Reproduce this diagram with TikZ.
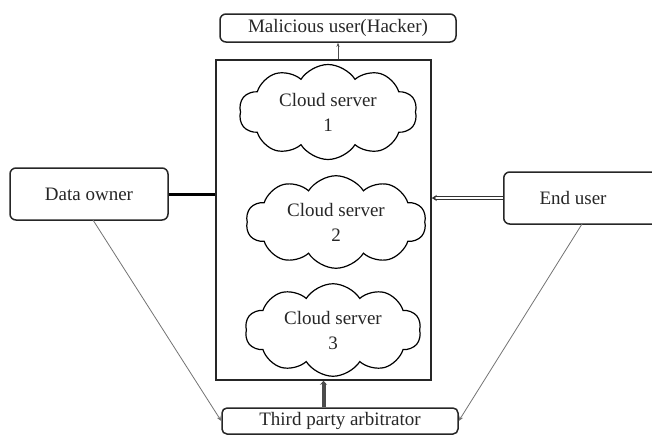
\documentclass[tikz,border=0pt]{standalone}
\usepackage{fontspec}
\setmainfont{Liberation Serif}
\usetikzlibrary{shapes.symbols,arrows.meta}
\begin{document}
\begin{tikzpicture}[x=1pt,y=-1pt,
  every node/.style={font=\fontsize{19}{22}\selectfont,text=black!85},
  rbox/.style={draw=black!85,line width=1.5pt,rounded corners=6pt,inner sep=0pt},
  cloudnode/.style={cloud,draw,line width=1.2pt,cloud puffs=10,cloud puff arc=115,aspect=1.9,inner sep=0pt,align=center,font=\fontsize{19}{25}\selectfont},
  thin gray/.style={draw=black!55,line width=0.8pt}]
\useasboundingbox (0,0) rectangle (652,434);
\node[rbox,minimum width=236pt,minimum height=28pt] (mal) at (338,28) {Malicious user(Hacker)};
\node[draw=black!85,line width=1.5pt,minimum width=215pt,minimum height=320pt,inner sep=0pt] (rect) at (323.5,220) {};
\node[rbox,minimum width=158pt,minimum height=52pt] (owner) at (89,194) {Data owner};
\node[rbox,minimum width=160pt,minimum height=52pt,anchor=west] (end) at (503,198) {};
\node (endtxt) at (573,198) {End user};
\node[rbox,minimum width=236pt,minimum height=26pt,rounded corners=5pt] (tpa) at (340,421) {Third party arbitrator};
\node[cloudnode,minimum width=178pt,minimum height=95pt] (c1) at (328,112) {Cloud server\\1};
\node[cloudnode,minimum width=180pt,minimum height=92pt] (c2) at (336,222) {Cloud server\\2};
\node[cloudnode,minimum width=176pt,minimum height=92pt] (c3) at (333,330) {Cloud server\\3};
% connectors
\draw[black!70,line width=0.8pt,-{Stealth[length=4pt,width=3pt]}] (rect.north -| mal.south) -- (mal.south);
\draw[black,line width=3pt] (owner.east) -- (rect.west |- owner.east);
\draw[black!80,double=white,double distance=2pt,line width=0.9pt,-{Stealth[length=5pt,width=6pt]}] (end.west) -- (rect.east |- end.west);
\draw[black!70,line width=4pt,-{Stealth[length=4pt,width=7pt]}] (tpa.north -| rect.south) -- (rect.south);
\draw[thin gray,-{Stealth[length=5pt,width=4pt]}] (93,220) coordinate (o1) -- (tpa.west);
\draw[thin gray,-{Stealth[length=5pt,width=4pt]}] (582,224) coordinate (e1) -- (tpa.east);
\end{tikzpicture}
\end{document}
